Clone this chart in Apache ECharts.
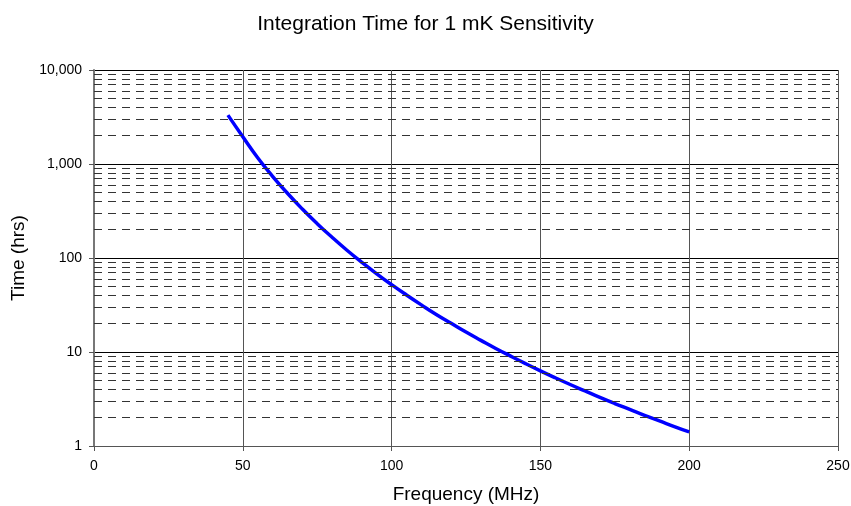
<!DOCTYPE html>
<html>
<head>
<meta charset="utf-8">
<title>Integration Time for 1 mK Sensitivity</title>
<script src="https://cdn.jsdelivr.net/npm/echarts@6/dist/echarts.min.js"></script>
<style>
  html, body { margin: 0; padding: 0; background: #fff; }
  #chart { width: 851px; height: 506px; }
</style>
</head>
<body>
<div id="chart"></div>
<script>
// frequency (MHz) and integration time (hrs)
var freq = [45, 50, 55, 60, 65, 70, 75, 80, 85, 90, 95, 100, 105, 110, 115, 120,
  125, 130, 135, 140, 145, 150, 155, 160, 165, 170, 175, 180, 185, 190, 195, 200];
var hours = [3310, 1950, 1165, 740, 488, 332, 232, 166, 121, 90, 67.9, 52, 40.4, 31.7, 25.1, 20.2,
  16.3, 13.3, 10.9, 9.04, 7.53, 6.31, 5.32, 4.51, 3.85, 3.29, 2.83, 2.45, 2.12, 1.85, 1.61, 1.41];

// dashed minor gridlines inside each decade
var minorLines = [2, 3, 4, 5, 6, 7, 8, 9,
  20, 30, 40, 50, 60, 70, 80, 90,
  200, 300, 400, 500, 600, 700, 800, 900,
  2000, 3000, 4000, 5000, 6000, 7000, 8000, 9000];

var font = 'Liberation Sans, Arial, sans-serif';
var chart = echarts.init(document.getElementById('chart'));

chart.setOption({
  backgroundColor: '#fff',
  animation: false,
  title: {
    text: 'Integration Time for 1 mK Sensitivity',
    left: 'center',
    top: 9,
    textStyle: { fontFamily: font, fontSize: 21, fontWeight: 'normal', color: '#000' }
  },
  grid: { left: 94, right: 13, top: 70, bottom: 60, outerBoundsMode: 'none' },
  xAxis: {
    type: 'value',
    min: 0,
    max: 250,
    interval: 50,
    name: 'Frequency (MHz)',
    nameLocation: 'middle',
    nameGap: 39,
    nameTextStyle: { fontFamily: font, fontSize: 19, color: '#000' },
    axisLine: { lineStyle: { color: '#555', width: 1 } },
    axisTick: { show: true, length: 5, lineStyle: { color: '#555' } },
    axisLabel: { fontFamily: font, fontSize: 14, color: '#000', margin: 13 },
    splitLine: { show: true, lineStyle: { color: '#555', width: 1 } }
  },
  yAxis: {
    type: 'log',
    logBase: 10,
    min: 1,
    max: 10000,
    name: 'Time (hrs)',
    nameLocation: 'middle',
    nameGap: 60,
    nameTextStyle: { fontFamily: font, fontSize: 19, color: '#000' },
    axisLine: { show: true, lineStyle: { color: '#777', width: 2 } },
    axisTick: { show: true, length: 5, lineStyle: { color: '#555' } },
    axisLabel: {
      fontFamily: font, fontSize: 14, color: '#000', margin: 12,
      formatter: function (v) { return Math.round(v).toLocaleString('en-US'); }
    },
    splitLine: { show: true, lineStyle: { color: '#000', width: 1 } }
  },
  series: [
    {
      type: 'line',
      data: [],
      z: 1,
      silent: true,
      markLine: {
        silent: true,
        symbol: 'none',
        animation: false,
        label: { show: false },
        lineStyle: { color: '#333', width: 1, type: [8, 6] },
        data: minorLines.map(function (v) { return { yAxis: v }; })
      }
    },
    {
      type: 'line',
      z: 3,
      smooth: true,
      showSymbol: false,
      lineStyle: { color: '#0000ff', width: 3.5 },
      data: freq.map(function (f, i) { return [f, hours[i]]; })
    }
  ]
});
</script>
</body>
</html>
